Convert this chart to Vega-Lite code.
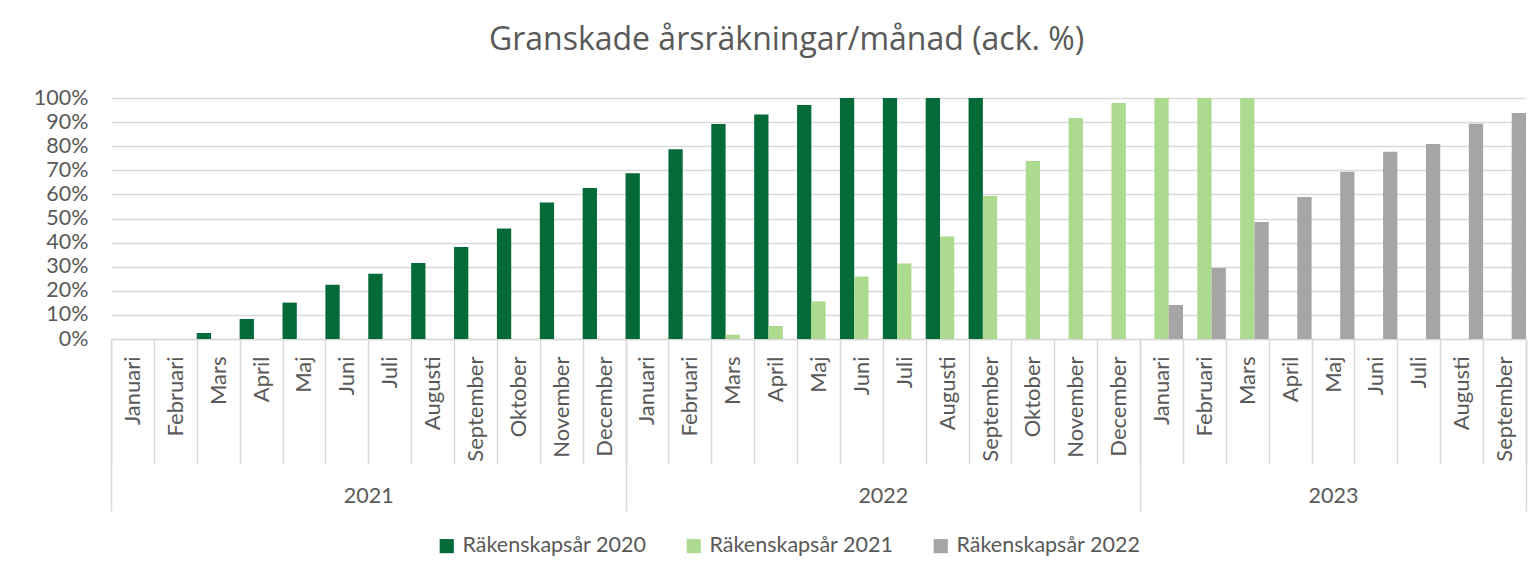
{
  "$schema": "https://vega.github.io/schema/vega-lite/v6.json",
  "autosize": {"type": "none"},
  "width": 1415,
  "height": 241,
  "padding": {"left": 111, "top": 98, "right": 11, "bottom": 224},
  "background": "white",
  "title": {
    "text": "Granskade årsräkningar/månad (ack. %)",
    "font": "Open Sans",
    "fontSize": 32,
    "fontWeight": "normal",
    "color": "#595959",
    "anchor": "middle",
    "dx": -32,
    "offset": 30
  },
  "config": {
    "view": {"stroke": null},
    "font": "Lato"
  },
  "datasets": {
    "bars": [
      {"m": "2021 Mars", "s": "Räkenskapsår 2020", "v": 0.025},
      {"m": "2021 April", "s": "Räkenskapsår 2020", "v": 0.083},
      {"m": "2021 Maj", "s": "Räkenskapsår 2020", "v": 0.151},
      {"m": "2021 Juni", "s": "Räkenskapsår 2020", "v": 0.225},
      {"m": "2021 Juli", "s": "Räkenskapsår 2020", "v": 0.271},
      {"m": "2021 Augusti", "s": "Räkenskapsår 2020", "v": 0.315},
      {"m": "2021 September", "s": "Räkenskapsår 2020", "v": 0.382},
      {"m": "2021 Oktober", "s": "Räkenskapsår 2020", "v": 0.459},
      {"m": "2021 November", "s": "Räkenskapsår 2020", "v": 0.566},
      {"m": "2021 December", "s": "Räkenskapsår 2020", "v": 0.627},
      {"m": "2022 Januari", "s": "Räkenskapsår 2020", "v": 0.688},
      {"m": "2022 Februari", "s": "Räkenskapsår 2020", "v": 0.787},
      {"m": "2022 Mars", "s": "Räkenskapsår 2020", "v": 0.892},
      {"m": "2022 April", "s": "Räkenskapsår 2020", "v": 0.932},
      {"m": "2022 Maj", "s": "Räkenskapsår 2020", "v": 0.971},
      {"m": "2022 Juni", "s": "Räkenskapsår 2020", "v": 1.0},
      {"m": "2022 Juli", "s": "Räkenskapsår 2020", "v": 1.0},
      {"m": "2022 Augusti", "s": "Räkenskapsår 2020", "v": 1.0},
      {"m": "2022 September", "s": "Räkenskapsår 2020", "v": 1.0},
      {"m": "2022 Mars", "s": "Räkenskapsår 2021", "v": 0.018},
      {"m": "2022 April", "s": "Räkenskapsår 2021", "v": 0.054},
      {"m": "2022 Maj", "s": "Räkenskapsår 2021", "v": 0.156},
      {"m": "2022 Juni", "s": "Räkenskapsår 2021", "v": 0.259},
      {"m": "2022 Juli", "s": "Räkenskapsår 2021", "v": 0.313},
      {"m": "2022 Augusti", "s": "Räkenskapsår 2021", "v": 0.425},
      {"m": "2022 September", "s": "Räkenskapsår 2021", "v": 0.593},
      {"m": "2022 Oktober", "s": "Räkenskapsår 2021", "v": 0.739},
      {"m": "2022 November", "s": "Räkenskapsår 2021", "v": 0.917},
      {"m": "2022 December", "s": "Räkenskapsår 2021", "v": 0.979},
      {"m": "2023 Januari", "s": "Räkenskapsår 2021", "v": 1.0},
      {"m": "2023 Februari", "s": "Räkenskapsår 2021", "v": 1.0},
      {"m": "2023 Mars", "s": "Räkenskapsår 2021", "v": 1.0},
      {"m": "2023 Januari", "s": "Räkenskapsår 2022", "v": 0.141},
      {"m": "2023 Februari", "s": "Räkenskapsår 2022", "v": 0.295},
      {"m": "2023 Mars", "s": "Räkenskapsår 2022", "v": 0.485},
      {"m": "2023 April", "s": "Räkenskapsår 2022", "v": 0.589},
      {"m": "2023 Maj", "s": "Räkenskapsår 2022", "v": 0.694},
      {"m": "2023 Juni", "s": "Räkenskapsår 2022", "v": 0.777},
      {"m": "2023 Juli", "s": "Räkenskapsår 2022", "v": 0.809},
      {"m": "2023 Augusti", "s": "Räkenskapsår 2022", "v": 0.893},
      {"m": "2023 September", "s": "Räkenskapsår 2022", "v": 0.938}
    ],
    "years": [
      {"year": "2021", "start": 0, "end": 12},
      {"year": "2022", "start": 12, "end": 24},
      {"year": "2023", "start": 24, "end": 33}
    ]
  },
  "layer": [
    {
      "data": {"name": "bars"},
      "mark": {"type": "bar"},
      "encoding": {
        "x": {
          "field": "m",
          "type": "nominal",
          "scale": {
            "domain": ["2021 Januari", "2021 Februari", "2021 Mars", "2021 April", "2021 Maj", "2021 Juni", "2021 Juli", "2021 Augusti", "2021 September", "2021 Oktober", "2021 November", "2021 December",
                       "2022 Januari", "2022 Februari", "2022 Mars", "2022 April", "2022 Maj", "2022 Juni", "2022 Juli", "2022 Augusti", "2022 September", "2022 Oktober", "2022 November", "2022 December",
                       "2023 Januari", "2023 Februari", "2023 Mars", "2023 April", "2023 Maj", "2023 Juni", "2023 Juli", "2023 Augusti", "2023 September"],
            "paddingInner": 0,
            "paddingOuter": 0
          },
          "axis": {
            "orient": "bottom",
            "title": null,
            "labelExpr": "split(datum.value, ' ')[1]",
            "labelAngle": -90,
            "labelAlign": "right",
            "labelBaseline": "middle",
            "labelFont": "Lato",
            "labelFontSize": 22,
            "labelColor": "#595959",
            "labelPadding": -108,
            "labelLimit": 0,
            "ticks": true,
            "tickBand": "extent",
            "tickSize": 125,
            "tickColor": "#d9d9d9",
            "tickWidth": 1.5,
            "domain": true,
            "domainColor": "#d9d9d9",
            "domainWidth": 1.5,
            "grid": false
          }
        },
        "xOffset": {
          "field": "s",
          "type": "nominal",
          "scale": {"domain": ["Räkenskapsår 2020", "Räkenskapsår 2021", "Räkenskapsår 2022"], "paddingInner": 0, "paddingOuter": 0}
        },
        "y": {
          "field": "v",
          "type": "quantitative",
          "scale": {"domain": [0, 1], "nice": false},
          "axis": {
            "title": null,
            "format": ".0%",
            "values": [0, 0.1, 0.2, 0.3, 0.4, 0.5, 0.6, 0.7, 0.8, 0.9, 1.0],
            "labelFont": "Lato",
            "labelFontSize": 21.5,
            "labelColor": "#595959",
            "labelPadding": 23,
            "ticks": false,
            "domain": false,
            "grid": true,
            "gridColor": "#d9d9d9",
            "gridWidth": 1.5
          }
        },
        "color": {
          "field": "s",
          "type": "nominal",
          "scale": {
            "domain": ["Räkenskapsår 2020", "Räkenskapsår 2021", "Räkenskapsår 2022"],
            "range": ["#046a38", "#acda8e", "#a5a5a5"]
          },
          "legend": {
            "title": null,
            "orient": "none",
            "direction": "horizontal",
            "legendX": 325,
            "legendY": 437,
            "symbolType": "square",
            "symbolSize": 200,
            "symbolStrokeWidth": 0,
            "labelFont": "Lato",
            "labelFontSize": 21.5,
            "labelColor": "#595959",
            "labelOffset": 5,
            "labelLimit": 0,
            "columnPadding": 36
          }
        }
      }
    },
    {
      "data": {"name": "years"},
      "mark": {"type": "rule", "opacity": 0},
      "encoding": {
        "x": {
          "field": "start",
          "type": "quantitative",
          "scale": {"domain": [0, 33], "nice": false, "zero": false},
          "axis": {
            "orient": "bottom",
            "title": null,
            "values": [0, 12, 24, 33],
            "labels": false,
            "ticks": true,
            "tickSize": 172,
            "tickColor": "#d9d9d9",
            "tickWidth": 1.5,
            "domain": false,
            "grid": false
          }
        }
      }
    },
    {
      "data": {"name": "years"},
      "mark": {"type": "rule", "opacity": 0},
      "encoding": {
        "x": {
          "field": "end",
          "type": "quantitative",
          "scale": {"domain": [0, 33], "nice": false, "zero": false},
          "axis": {
            "orient": "bottom",
            "title": null,
            "values": [6, 18, 28.5],
            "labelExpr": "datum.value == 6 ? '2021' : datum.value == 18 ? '2022' : '2023'",
            "labelFont": "Lato",
            "labelFontSize": 21.5,
            "labelColor": "#595959",
            "labelPadding": 146,
            "labelBaseline": "top",
            "ticks": false,
            "domain": false,
            "grid": false
          }
        }
      }
    }
  ],
  "resolve": {"scale": {"x": "independent"}, "axis": {"x": "independent"}}
}
